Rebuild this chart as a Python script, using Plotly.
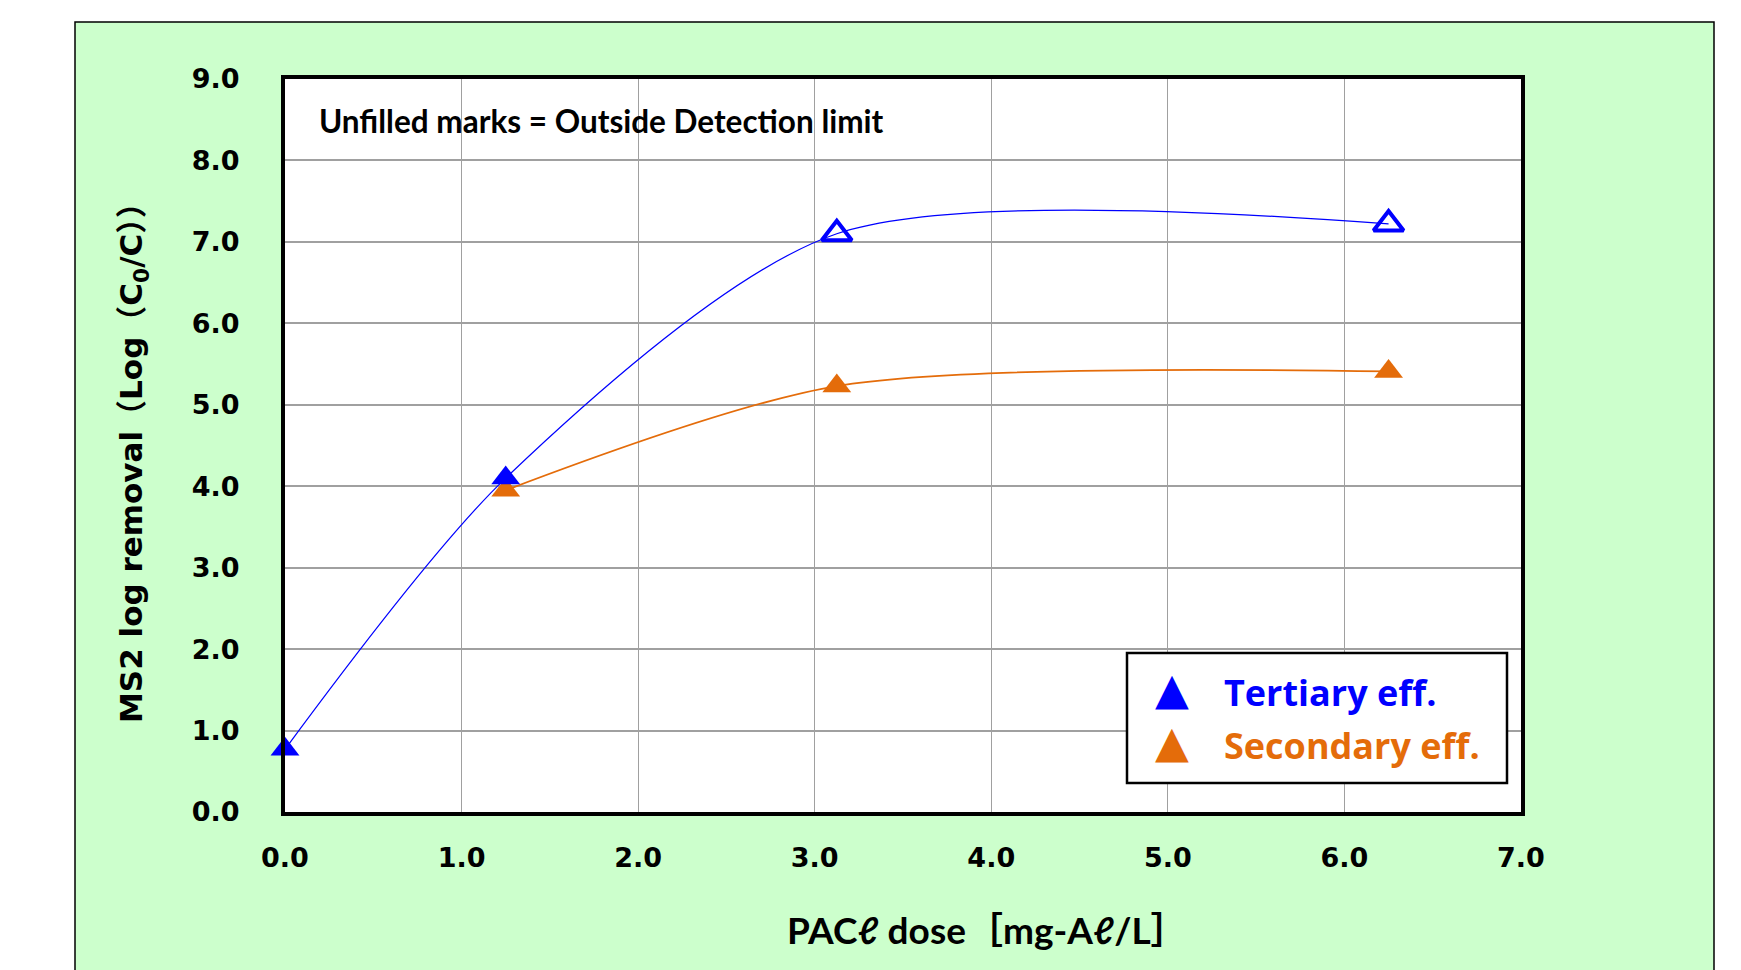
import plotly.graph_objects as go

# ---------------- data ----------------
tertiary_dose = [0.0, 1.25, 3.125, 6.25]
tertiary_lrv = [0.77, 4.1, 7.1, 7.22]
tertiary_filled = [True, True, False, False]

secondary_dose = [1.25, 3.125, 6.25]
secondary_lrv = [3.95, 5.23, 5.41]

x_ticks = [0, 1, 2, 3, 4, 5, 6, 7]
y_ticks = [0, 1, 2, 3, 4, 5, 6, 7, 8, 9]

BLUE = "#0000FF"
ORANGE = "#E46C0A"
GREEN = "#CCFFCC"
GRID = "#A0A0A0"

# page offset of the plotly div (default body margin)
OFF = 8
W, H = 1741, 970
# plot-area edges in page pixels (reference)
PL, PR, PT, PB = 285, 1521, 79, 812
L, R, T, B = PL - OFF, PR - OFF, PT - OFF, PB - OFF
pw, ph = R - L, B - T


def px(xpage):
    return (xpage - OFF - L) / pw


def py(ypage):
    return (B - (ypage - OFF)) / ph


fig = go.Figure()

SM = 0.8
# curves
fig.add_trace(go.Scatter(
    x=tertiary_dose, y=tertiary_lrv, mode="lines",
    line=dict(color=BLUE, width=1.2, shape="spline", smoothing=SM),
    hoverinfo="skip", showlegend=False, cliponaxis=False))
fig.add_trace(go.Scatter(
    x=secondary_dose, y=secondary_lrv, mode="lines",
    line=dict(color=ORANGE, width=1.8, shape="spline", smoothing=SM),
    hoverinfo="skip", showlegend=False, cliponaxis=False))

# markers
fig.add_trace(go.Scatter(
    x=secondary_dose, y=secondary_lrv, mode="markers",
    marker=dict(symbol="triangle-up", size=25, color=ORANGE, line=dict(width=0)),
    name="Secondary eff.", showlegend=False, cliponaxis=False))

fx = [d for d, f in zip(tertiary_dose, tertiary_filled) if f]
fy = [v for v, f in zip(tertiary_lrv, tertiary_filled) if f]
ox = [d for d, f in zip(tertiary_dose, tertiary_filled) if not f]
oy = [v for v, f in zip(tertiary_lrv, tertiary_filled) if not f]
fig.add_trace(go.Scatter(
    x=fx, y=fy, mode="markers",
    marker=dict(symbol="triangle-up", size=25, color=BLUE, line=dict(width=0)),
    name="Tertiary eff.", showlegend=False, cliponaxis=False))
fig.add_trace(go.Scatter(
    x=ox, y=oy, mode="markers",
    marker=dict(symbol="triangle-up-open", size=26, color=BLUE, line=dict(width=4, color=BLUE)),
    name="Tertiary eff. (outside detection limit)", showlegend=False, cliponaxis=False))

tickfont = dict(family="DejaVu Sans", size=27, color="black")

fig.update_layout(
    width=W, height=H,
    margin=dict(l=L, r=W - R, t=T, b=H - B),
    paper_bgcolor="white",
    plot_bgcolor="white",
    showlegend=False,
    xaxis=dict(
        range=[0, 7], tickvals=x_ticks, ticktext=[f"<b>{v:.1f}</b>" for v in x_ticks],
        showgrid=True, gridcolor=GRID, gridwidth=1.2,
        zeroline=False, showline=True, linecolor="black", linewidth=4, mirror=True,
        ticks="", ticklabelstandoff=19,
        tickfont=tickfont,
    ),
    yaxis=dict(
        range=[0, 9], tickvals=y_ticks, ticktext=[f"<b>{v:.1f}</b>" for v in y_ticks],
        showgrid=True, gridcolor=GRID, gridwidth=1.5,
        zeroline=False, showline=True, linecolor="black", linewidth=4, mirror=True,
        ticks="", ticklabelstandoff=36,
        tickfont=tickfont,
    ),
    shapes=[
        # green chart-area background with thin border
        dict(type="rect", xref="paper", yref="paper", layer="below",
             x0=px(75), x1=px(1714), y0=py(1000), y1=py(22),
             fillcolor=GREEN, line=dict(color="black", width=1.5)),
        # white plot area
        dict(type="rect", xref="paper", yref="paper", layer="below",
             x0=0, x1=1, y0=0, y1=1, fillcolor="white", line=dict(width=0)),
        # legend box
        dict(type="rect", xref="paper", yref="paper", layer="above",
             x0=px(1127), x1=px(1507), y0=py(783), y1=py(653),
             fillcolor="white", line=dict(color="black", width=2.5)),
    ],
)

annotations = [
    dict(text="<b>Unfilled marks = Outside Detection limit</b>",
         x=px(317), y=py(121), xref="paper", yref="paper",
         xanchor="left", yanchor="middle", showarrow=False,
         font=dict(family="Lato", size=31.5, color="black")),
    dict(text="<b>MS2 log removal（Log（C<sub>0</sub>/C））</b>",
         x=px(133), y=py(455), xref="paper", yref="paper",
         xanchor="center", yanchor="middle", showarrow=False, textangle=-90,
         font=dict(family="DejaVu Sans, Noto Sans CJK JP", size=31, color="black")),
    dict(text="<b>PACℓ dose［mg-Aℓ/L］</b>",
         x=px(987), y=py(930), xref="paper", yref="paper",
         xanchor="center", yanchor="middle", showarrow=False,
         font=dict(family="Lato, Noto Sans CJK JP", size=37, color="black")),
    # legend
    dict(text="▲", x=px(1172), y=py(688), xref="paper", yref="paper",
         xanchor="center", yanchor="middle", showarrow=False,
         font=dict(family="DejaVu Sans", size=44, color=BLUE)),
    dict(text="▲", x=px(1172), y=py(741), xref="paper", yref="paper",
         xanchor="center", yanchor="middle", showarrow=False,
         font=dict(family="DejaVu Sans", size=44, color=ORANGE)),
    dict(text="<b>Tertiary eff.</b>", x=px(1222), y=py(692), xref="paper", yref="paper",
         xanchor="left", yanchor="middle", showarrow=False,
         font=dict(family="Open Sans", size=36, color=BLUE)),
    dict(text="<b>Secondary eff.</b>", x=px(1222), y=py(745), xref="paper", yref="paper",
         xanchor="left", yanchor="middle", showarrow=False,
         font=dict(family="Open Sans", size=36, color=ORANGE)),
]
fig.update_layout(annotations=annotations)

fig.write_html("out.html")
